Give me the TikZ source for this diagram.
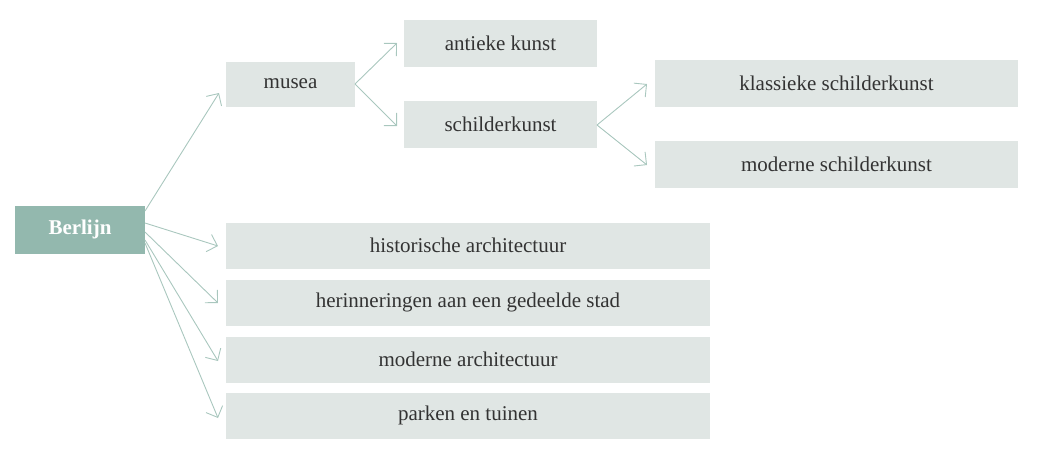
\documentclass[tikz,border=0pt]{standalone}
\usepackage{fontspec}
\setmainfont{Liberation Serif}
\usetikzlibrary{arrows.meta}
\definecolor{teal1}{HTML}{93B8AE}
\definecolor{grey1}{HTML}{E0E6E4}
\definecolor{arr}{HTML}{A9C7BE}
\definecolor{txt}{HTML}{333333}
\begin{document}
\begin{tikzpicture}[x=1pt,y=-1pt,
  box/.style={fill=grey1,text=txt,font=\fontsize{21}{24}\selectfont},
  con/.style={draw=arr,line width=0.9pt,-{Straight Barb[length=9pt,width=18pt,line width=0.9pt]}}]
\useasboundingbox (0,0) rectangle (1044,451);
\fill[teal1] (15,206) rectangle (145,254);
\node[text=white,font=\fontsize{21}{24}\selectfont\bfseries] (b) at (80,229) {Berlijn};
\coordinate (bR) at (145,230);
\fill[grey1] (226,62) rectangle (355,107); \node[box] (m) at (290.5,84) {musea};
\fill[grey1] (404,20) rectangle (597,67); \node[box] (ak) at (500.5,43) {antieke kunst};
\fill[grey1] (404,101) rectangle (597,148); \node[box] (sk) at (500.5,124) {schilderkunst};
\fill[grey1] (655,60) rectangle (1018,107); \node[box] (ks) at (836.5,83) {klassieke schilderkunst};
\fill[grey1] (655,141) rectangle (1018,188); \node[box] (ms) at (836.5,164) {moderne schilderkunst};
\fill[grey1] (226,223) rectangle (710,269); \node[box] (h1) at (468,245) {historische architectuur};
\fill[grey1] (226,280) rectangle (710,326); \node[box] (h2) at (468,302) {herinneringen aan een gedeelde stad};
\fill[grey1] (226,337) rectangle (710,383); \node[box] (h3) at (468,359) {moderne architectuur};
\fill[grey1] (226,393) rectangle (710,439); \node[box] (h4) at (468,415) {parken en tuinen};
\coordinate (t0) at (219,93);
\coordinate (t1) at (218,246);
\coordinate (t2) at (218,303);
\coordinate (t3) at (218,361);
\coordinate (t4) at (218,418);
\coordinate (mR) at (355,84);
\coordinate (m1) at (397,43);
\coordinate (m2) at (397,126);
\coordinate (sR) at (597,125);
\coordinate (s1) at (647,84);
\coordinate (s2) at (647,165);
\draw[con] (145,211) -- (t0);
\draw[con] (145,223) -- (t1);
\draw[con] (145,232) -- (t2);
\draw[con] (145,240) -- (t3);
\draw[con] (145,243) -- (t4);
\draw[con] (mR) -- (m1);
\draw[con] (mR) -- (m2);
\draw[con] (sR) -- (s1);
\draw[con] (sR) -- (s2);
\end{tikzpicture}
\end{document}
